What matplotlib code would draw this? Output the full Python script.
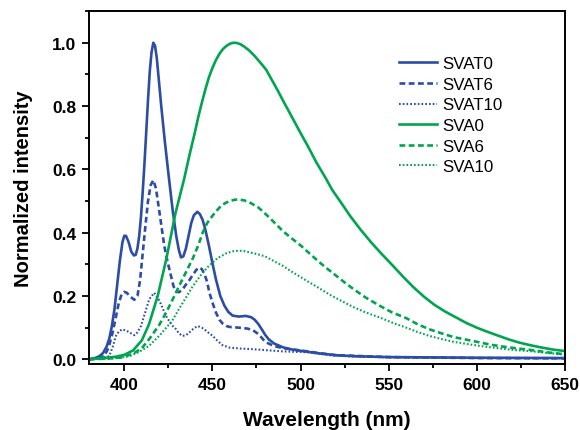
import matplotlib
matplotlib.use("Agg")
import matplotlib.pyplot as plt
from matplotlib.ticker import MultipleLocator, FormatStrFormatter

plt.rcParams['font.family'] = ['Liberation Sans', 'DejaVu Sans']

BLUE = "#2D4CA6"
GREEN = "#00A54F"

# SVAT0 (solid blue)
svat0_x = [380, 383, 386, 388, 390, 391.5, 393, 394.5, 396, 397.5, 399, 400, 401, 402.5, 404, 405.5,
           406.5, 407.5, 408.5, 409.5, 410.5, 411.5, 412.5, 413.5, 414.5, 415.5, 416.5, 417.5, 418.5,
           419.5, 421, 423, 425, 427.5, 429.5, 431, 432.2, 433.5, 435, 436.5, 438, 439.5, 441.5,
           443, 444.5, 446, 448, 450, 452, 454.5, 456.8, 459, 461.5, 465, 469, 472, 474, 476, 478,
           480, 482, 485, 490, 495, 500, 505, 510, 520, 530, 550, 600, 650]
svat0_y = [0.0, 0.003, 0.01, 0.02, 0.04, 0.065, 0.105, 0.16, 0.235, 0.31, 0.37, 0.39, 0.39, 0.37, 0.34, 0.328,
           0.33, 0.35, 0.39, 0.45, 0.53, 0.62, 0.72, 0.82, 0.91, 0.97, 1.0, 0.99, 0.95,
           0.89, 0.8, 0.69, 0.59, 0.47, 0.39, 0.345, 0.322, 0.325, 0.35, 0.39, 0.43, 0.455, 0.466,
           0.458, 0.44, 0.41, 0.36, 0.305, 0.253, 0.2, 0.17, 0.15, 0.138, 0.135, 0.137, 0.133, 0.125, 0.112, 0.095,
           0.077, 0.063, 0.05, 0.038, 0.031, 0.027, 0.023, 0.019, 0.013, 0.01, 0.007, 0.005, 0.004]

# SVAT6 (dashed blue)
svat6_x = [380, 384, 388.6, 391, 393.4, 395.5, 397, 398.5, 400, 401.5, 403, 405.7, 407.5, 409, 410.4,
           412, 413.5, 415, 416.5, 418, 420, 422.7, 424.5, 426.5, 428, 429.4, 431, 433, 435, 437,
           439, 441, 442.5, 444, 445.5, 447, 448.3, 450, 452, 454, 456, 458, 460, 465, 470, 473,
           476, 478, 480, 483, 485, 490, 500, 510, 520, 550, 600, 650]
svat6_y = [0.0, 0.003, 0.01, 0.035, 0.084, 0.14, 0.18, 0.205, 0.213, 0.21, 0.2, 0.188, 0.2, 0.25, 0.33,
           0.42, 0.5, 0.55, 0.566, 0.54, 0.464, 0.359, 0.31, 0.264, 0.23, 0.215, 0.212, 0.22, 0.236, 0.25,
           0.268, 0.283, 0.29, 0.285, 0.27, 0.245, 0.211, 0.18, 0.148, 0.125, 0.112, 0.105, 0.102, 0.1, 0.097, 0.092,
           0.08, 0.068, 0.055, 0.047, 0.042, 0.035, 0.028, 0.02, 0.013, 0.007, 0.004, 0.003]

# SVAT10 (dotted blue)
svat10_x = [380, 386, 391.5, 393.5, 395.3, 397, 399, 402, 405.7, 407.5, 409.5, 412, 414.2, 417, 420,
            423.7, 427, 429.4, 431, 433, 435, 437, 439.5, 441.7, 444, 446, 448, 450.2, 453, 455.7,
            459.7, 466, 472.7, 480, 490, 505, 518, 530, 550, 600, 650]
svat10_y = [0.0, 0.003, 0.01, 0.04, 0.074, 0.088, 0.095, 0.088, 0.076, 0.085, 0.105, 0.15, 0.19, 0.21, 0.185,
            0.137, 0.108, 0.095, 0.082, 0.074, 0.076, 0.085, 0.098, 0.105, 0.1, 0.092, 0.083, 0.074, 0.058, 0.045,
            0.037, 0.034, 0.032, 0.029, 0.025, 0.022, 0.012, 0.009, 0.006, 0.004, 0.003]

# SVA0 (solid green)
sva0_x = [380, 385, 390, 395, 400, 405, 410, 414, 419, 424, 429, 434, 437, 440, 442, 444, 446, 448,
          450, 452, 454, 456, 458, 460, 462, 464, 466, 468, 471, 474, 476, 478, 480.5, 483, 485,
          487, 490, 494, 500, 504, 509, 514, 518, 523, 528, 534, 540, 546, 552, 558, 564, 570, 576,
          582, 588, 594, 600, 606, 612, 618, 624, 630, 636, 643, 650]
sva0_y = [0.0, 0.003, 0.005, 0.008, 0.014, 0.028, 0.06, 0.11, 0.2, 0.32, 0.46, 0.57, 0.645, 0.715, 0.765,
          0.81, 0.852, 0.89, 0.92, 0.945, 0.965, 0.98, 0.99, 0.997, 1.0, 0.999, 0.995, 0.988, 0.975, 0.958,
          0.945, 0.932, 0.915, 0.89, 0.87, 0.85, 0.818, 0.777, 0.715, 0.675, 0.622, 0.575, 0.535, 0.495,
          0.454, 0.41, 0.37, 0.333, 0.298, 0.262, 0.228, 0.198, 0.172, 0.151, 0.133, 0.115, 0.1, 0.087,
          0.075, 0.063, 0.053, 0.045, 0.038, 0.031, 0.026]

# SVA6 (dashed green)
sva6_x = [380, 390, 399, 405, 410, 415, 420, 424, 428, 431, 435, 439, 442, 444.5, 447, 450, 452.5, 455,
          457.5, 460, 462.5, 465, 468, 471, 476, 481, 485, 490, 495, 500, 505, 510, 515, 520, 525,
          530, 537, 545, 552, 560, 566, 573, 580, 587, 595, 602, 608, 615, 622, 630, 640, 650]
sva6_y = [0.0, 0.002, 0.006, 0.018, 0.035, 0.07, 0.11, 0.15, 0.195, 0.23, 0.275, 0.32, 0.36, 0.4, 0.43,
          0.453, 0.47, 0.485, 0.494, 0.5, 0.504, 0.505, 0.502, 0.496, 0.48, 0.455, 0.433, 0.405, 0.382,
          0.36, 0.335, 0.31, 0.287, 0.265, 0.243, 0.222, 0.195, 0.169, 0.148, 0.13, 0.112, 0.095, 0.082,
          0.07, 0.061, 0.053, 0.046, 0.04, 0.035, 0.03, 0.022, 0.016]

# SVA10 (dotted green)
sva10_x = [380, 392, 403, 408, 414, 420, 427, 431, 435, 439, 444, 448, 453, 458, 461.5, 465, 468, 471,
           475, 480, 485, 490, 495, 500, 505, 509, 516, 523, 530, 537, 545, 552, 560, 566, 573, 580,
           587, 595, 602, 608, 615, 622, 630, 640, 650]
sva10_y = [0.0, 0.002, 0.01, 0.022, 0.042, 0.075, 0.12, 0.158, 0.195, 0.232, 0.27, 0.295, 0.32, 0.335,
           0.341, 0.343, 0.342, 0.338, 0.333, 0.325, 0.31, 0.295, 0.277, 0.26, 0.243, 0.23, 0.206, 0.185,
           0.165, 0.148, 0.132, 0.116, 0.1, 0.087, 0.074, 0.064, 0.055, 0.048, 0.042, 0.038, 0.033, 0.029,
           0.026, 0.02, 0.015]

fig = plt.figure(figsize=(5.8, 4.31), dpi=100)
ax = fig.add_axes([0.1534, 0.153, 0.974 - 0.1534, 0.972 - 0.153])

lw = 1.9
ax.plot(svat0_x, svat0_y, color=BLUE, lw=lw, ls='-', label='SVAT0')
ax.plot(svat6_x, svat6_y, color=BLUE, lw=lw, ls=(0, (2.2, 1.3)), label='SVAT6')
ax.plot(svat10_x, svat10_y, color=BLUE, lw=1.5, ls=(0, (0.8, 1.0)), label='SVAT10')
ax.plot(sva0_x, sva0_y, color=GREEN, lw=lw, ls='-', label='SVA0')
ax.plot(sva6_x, sva6_y, color=GREEN, lw=lw, ls=(0, (2.2, 1.3)), label='SVA6')
ax.plot(sva10_x, sva10_y, color=GREEN, lw=1.5, ls=(0, (0.8, 1.0)), label='SVA10')

ax.set_xlim(380, 650)
ax.set_ylim(-0.015, 1.10)
ax.xaxis.set_major_locator(MultipleLocator(50))
ax.xaxis.set_minor_locator(MultipleLocator(25))
ax.yaxis.set_major_locator(MultipleLocator(0.2))
ax.yaxis.set_minor_locator(MultipleLocator(0.1))
ax.yaxis.set_major_formatter(FormatStrFormatter('%.1f'))
ax.tick_params(which='both', direction='out', width=1.3, top=False, right=False)
ax.tick_params(which='major', length=5, labelsize=12.5, pad=4)
ax.tick_params(which='minor', length=3)
for lab in ax.get_xticklabels() + ax.get_yticklabels():
    lab.set_fontweight('bold')
for s in ax.spines.values():
    s.set_linewidth(1.4)

ax.set_xlabel('Wavelength (nm)', fontsize=15, fontweight='bold', labelpad=13)
ax.set_ylabel('Normalized intensity', fontsize=14.5, fontweight='bold', labelpad=14)

ax.legend(loc='upper left', bbox_to_anchor=(0.652, 0.872), frameon=False, fontsize=12.2,
          handlelength=2.25, handletextpad=0.3, labelspacing=0.33, borderpad=0, borderaxespad=0)

fig.savefig('out.png', dpi=100)
